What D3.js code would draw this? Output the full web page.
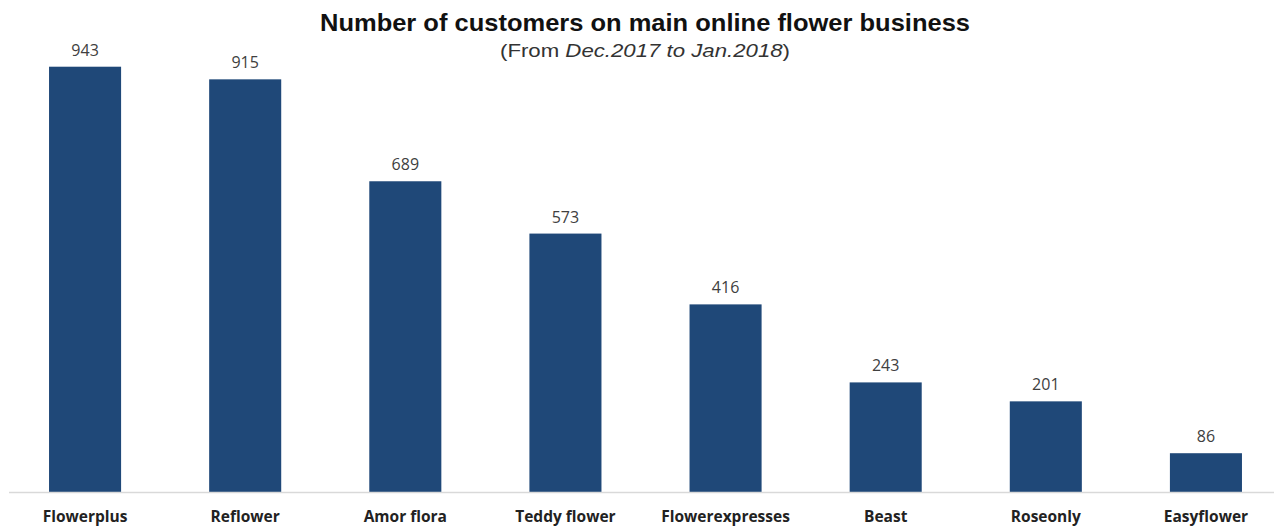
<!DOCTYPE html>
<html>
<head>
<meta charset="utf-8">
<script src="https://cdn.jsdelivr.net/npm/d3@7"></script>
<style>
  body { margin: 0; background: #fff; }
  .title { font-family: "Liberation Sans", Arial, sans-serif; font-weight: bold; font-size: 24px; fill: #111; }
  .subtitle { font-family: "Liberation Sans", Arial, sans-serif; font-size: 19px; fill: #333; }
  .value { font-family: "Open Sans", "Noto Sans", sans-serif; font-size: 16px; fill: #404040; }
  .cat { font-family: "Open Sans", "Noto Sans", sans-serif; font-size: 15.5px; font-weight: bold; fill: #222; }
</style>
</head>
<body>
<div id="chart"></div>
<script>
const categories = ['Flowerplus', 'Reflower', 'Amor flora', 'Teddy flower', 'Flowerexpresses', 'Beast', 'Roseonly', 'Easyflower'];
const customers = [943, 915, 689, 573, 416, 243, 201, 86];

const width = 1274, height = 527;
const baseline = 492;

const svg = d3.select('#chart')
  .append('svg')
  .attr('width', width)
  .attr('height', height);

const x = d3.scaleBand()
  .domain(categories)
  .range([5, 1286])
  .paddingInner(0.55)
  .paddingOuter(0.275);

const y = d3.scaleLinear()
  .domain([0, 1000])
  .range([baseline, 41]);

// title
svg.append('text')
  .attr('class', 'title')
  .attr('x', 645)
  .attr('y', 31)
  .attr('text-anchor', 'middle')
  .attr('textLength', 650)
  .attr('lengthAdjust', 'spacingAndGlyphs')
  .text('Number of customers on main online flower business');

const sub = svg.append('text')
  .attr('class', 'subtitle')
  .attr('x', 645)
  .attr('y', 57)
  .attr('text-anchor', 'middle')
  .attr('textLength', 290)
  .attr('lengthAdjust', 'spacingAndGlyphs');
sub.append('tspan').text('(From ');
sub.append('tspan').attr('font-style', 'italic').text('Dec.2017 to Jan.2018');
sub.append('tspan').text(')');

// bars
svg.selectAll('.bar')
  .data(categories)
  .join('rect')
  .attr('class', 'bar')
  .attr('x', d => x(d))
  .attr('width', x.bandwidth())
  .attr('y', (d, i) => y(customers[i]))
  .attr('height', (d, i) => baseline - y(customers[i]))
  .attr('fill', '#1f4878');

// axis line
svg.append('line')
  .attr('x1', 9)
  .attr('x2', width)
  .attr('y1', baseline + 0.5)
  .attr('y2', baseline + 0.5)
  .attr('stroke', '#d9d9d9')
  .attr('stroke-width', 1.5);

// value labels
svg.selectAll('.value')
  .data(categories)
  .join('text')
  .attr('class', 'value')
  .attr('x', d => x(d) + x.bandwidth() / 2)
  .attr('y', (d, i) => y(customers[i]) - 11)
  .attr('text-anchor', 'middle')
  .text((d, i) => customers[i]);

// category labels
svg.selectAll('.cat')
  .data(categories)
  .join('text')
  .attr('class', 'cat')
  .attr('x', d => x(d) + x.bandwidth() / 2)
  .attr('y', 522)
  .attr('text-anchor', 'middle')
  .text(d => d);
</script>
</body>
</html>
